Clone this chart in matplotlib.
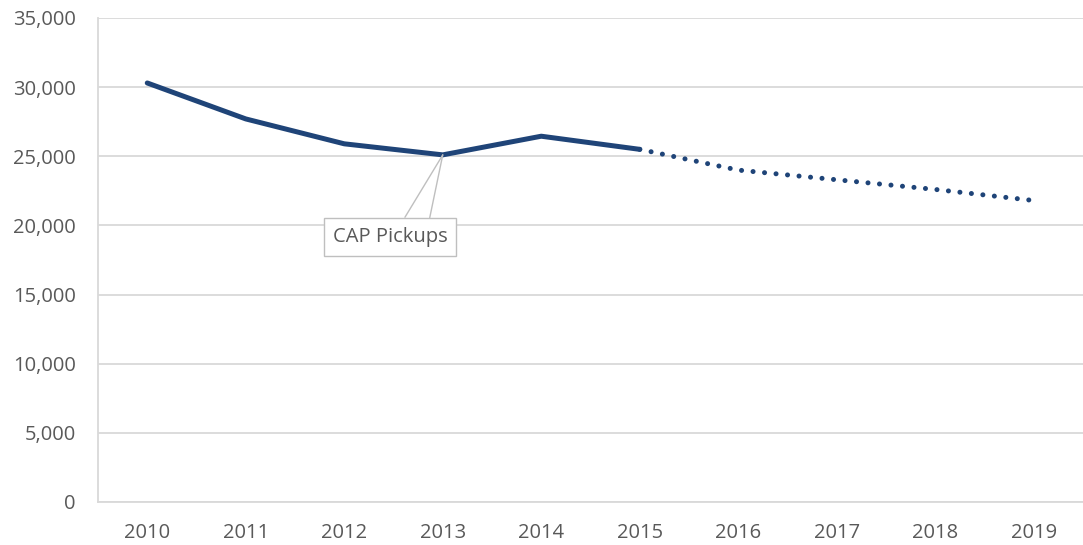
import matplotlib.pyplot as plt
import numpy as np
from matplotlib.ticker import FuncFormatter

years = ["2010", "2011", "2012", "2013", "2014", "2015", "2016", "2017", "2018", "2019"]
actual = [30300, 27700, 25900, 25100, 26450, 25500]
forecast = [25500, 24000, 23300, 22600, 21800]
callout_label = "CAP Pickups"
callout_year = "2013"

plt.rcParams['font.family'] = ['Open Sans', 'DejaVu Sans']
grey_txt = "#595959"
grid_c = "#d9d9d9"
blue = "#1f4478"
fs = 14.5

fig = plt.figure(figsize=(10.83, 5.45), dpi=100)
ax = fig.add_axes([0.0905, 0.079, 0.9095, 0.888])

x = np.arange(len(years))
ax.plot(x[:len(actual)], actual, color=blue, lw=3.6, solid_capstyle="round", zorder=3)
ax.plot(x[len(actual) - 1:], forecast, color=blue, lw=3.6, dash_capstyle="round",
        linestyle=(0, (0.01, 2.3)), zorder=3)

ax.set_xlim(-0.5, len(years) - 0.5)
ax.set_ylim(0, 35000)
ax.set_yticks(np.arange(0, 35001, 5000))
ax.yaxis.set_major_formatter(FuncFormatter(lambda v, p: f"{int(v):,}"))
ax.set_xticks(x)
ax.set_xticklabels(years)
ax.tick_params(length=0, labelsize=fs, colors=grey_txt)
ax.tick_params(axis="x", pad=15)
ax.tick_params(axis="y", pad=16)
ax.grid(axis="y", color=grid_c, lw=1.3)
ax.set_axisbelow(True)
for s in ["top", "right"]:
    ax.spines[s].set_visible(False)
for s in ["left", "bottom"]:
    ax.spines[s].set_color(grid_c)
    ax.spines[s].set_linewidth(1.3)

i = years.index(callout_year)
pt = (x[i], actual[i])
offset = (-38, -59)
box = dict(boxstyle="square,pad=0.45", fc="white", ec="#bfbfbf", lw=1)
ax.annotate(callout_label, xy=pt, xytext=offset, textcoords="offset points",
            ha="center", va="center", fontsize=fs, color=grey_txt, bbox=box,
            arrowprops=dict(arrowstyle="-", color="#bfbfbf", lw=1, relpos=(0.58, 1),
                            shrinkA=0, shrinkB=0), zorder=4)
ax.annotate(callout_label, xy=pt, xytext=offset, textcoords="offset points",
            ha="center", va="center", fontsize=fs, color="none",
            bbox=dict(boxstyle="square,pad=0.45", fc="none", ec="none"),
            arrowprops=dict(arrowstyle="-", color="#bfbfbf", lw=1, relpos=(0.83, 1),
                            shrinkA=0, shrinkB=0), zorder=4)

fig.savefig("out.png", dpi=100)
